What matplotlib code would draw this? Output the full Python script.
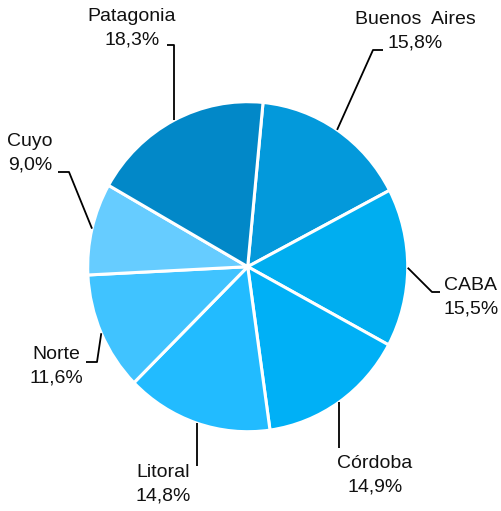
import numpy as np
import matplotlib
matplotlib.use("Agg")
import matplotlib.pyplot as plt

regions = ["Buenos  Aires", "CABA", "Córdoba", "Litoral", "Norte", "Cuyo", "Patagonia"]
shares = [15.8, 15.5, 14.9, 14.8, 11.6, 9.0, 18.3]
colors = ["#0399DB", "#00AEF0", "#00B0F6", "#22BBFF", "#40C3FF", "#66CCFF", "#0288C8"]

W, H = 502, 511
plt.rcParams['font.family'] = ['Liberation Sans', 'DejaVu Sans']

fig = plt.figure(figsize=(W / 100, H / 100), dpi=100)
ax = fig.add_axes([0, 0, 1, 1])

# slight vertical stretch of the pie as in the reference
RX, RY = 160.0, 165.0
k = RX / RY
def Y(y_top):
    return (H - y_top) * k

cx, cy, R = 247.7, Y(266.7), RX
wedges, _ = ax.pie(shares, colors=colors, startangle=84.5, counterclock=False,
                   center=(cx, cy), radius=R, frame=True,
                   wedgeprops=dict(edgecolor='white', linewidth=2.2))
ax.set_aspect('auto')
ax.set_xlim(0, W)
ax.set_ylim(0, H * k)
ax.axis('off')

layout = {
    "Buenos  Aires": dict(text=(415, 31), path=[(373, 50), (383, 50)]),
    "CABA": dict(text=(471, 297), path=[(432, 292), (440, 292)]),
    "Córdoba": dict(text=(375, 475), path=['v', 448]),
    "Litoral": dict(text=(163, 484), path=['v', 466]),
    "Norte": dict(text=(56, 366), path=[(97, 362), (86, 362)]),
    "Cuyo": dict(text=(30, 153), path=[(69, 172), (58, 172)]),
    "Patagonia": dict(text=(132, 28), path=['v', 45, (167, 45)]),
}

for w, name, val in zip(wedges, regions, shares):
    mid = np.deg2rad((w.theta1 + w.theta2) / 2)
    ex, ey = cx + R * np.cos(mid), cy + R * np.sin(mid)
    spec = layout[name]
    pts = [(ex, ey)]
    p = spec['path']
    if p[0] == 'v':
        pts.append((ex, Y(p[1])))
        for q in p[2:]:
            pts.append((q[0], Y(q[1])))
    else:
        for q in p:
            pts.append((q[0], Y(q[1])))
    xs, ys = zip(*pts)
    ax.plot(xs, ys, color='black', lw=1.3, solid_capstyle='butt')
    tx, ty = spec['text']
    label = f"{name}\n{val:.1f}%".replace('.', ',')
    ax.text(tx, Y(ty), label, ha='center', va='center', fontsize=14,
            linespacing=1.5, color='#111111')

fig.savefig("out.png", dpi=100)
